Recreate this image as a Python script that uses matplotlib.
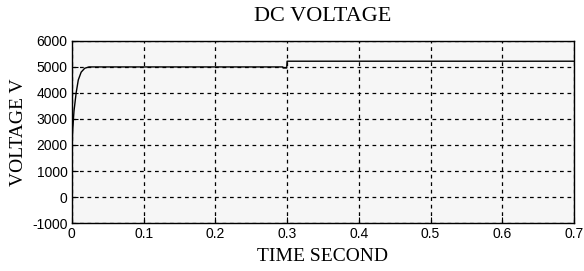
import numpy as np
import matplotlib
matplotlib.use("Agg")
import matplotlib.pyplot as plt

plt.rcParams["axes.unicode_minus"] = False

# DC voltage trace
time_s = [0, 0.001, 0.003, 0.006, 0.009, 0.013, 0.018, 0.024,
          0.294, 0.2945, 0.2995, 0.3, 0.7]
voltage_v = [1500, 2500, 3300, 4000, 4500, 4800, 4950, 5000,
             5000, 4960, 4960, 5220, 5220]

x_ticks = [0, 0.1, 0.2, 0.3, 0.4, 0.5, 0.6, 0.7]
x_labels = ["0", "0.1", "0.2", "0.3", "0.4", "0.5", "0.6", "0.7"]
y_ticks = [-1000, 0, 1000, 2000, 3000, 4000, 5000, 6000]

fig = plt.figure(figsize=(5.84, 2.71), dpi=100)
ax = fig.add_axes([0.123, 0.177, 0.860, 0.672])
ax.set_facecolor("#f6f6f6")

ax.plot(time_s, voltage_v, color="black", lw=1.0)

ax.set_xlim(0, 0.7)
ax.set_ylim(-1000, 6000)
ax.set_xticks(x_ticks)
ax.set_xticklabels(x_labels)
ax.set_yticks(y_ticks)
ax.grid(True, color="black", linestyle=(0, (3, 3)), linewidth=0.9)
ax.tick_params(direction="in", length=4, labelsize=10, colors="black", pad=3)
for lbl in ax.get_xticklabels() + ax.get_yticklabels():
    lbl.set_family("Liberation Sans")
for s in ax.spines.values():
    s.set_color("black")
    s.set_linewidth(1.0)

ax.set_title("DC VOLTAGE", family="Liberation Serif", fontsize=16, pad=14)
ax.set_xlabel("TIME SECOND", family="Liberation Serif", fontsize=14, labelpad=5)
ax.set_ylabel("VOLTAGE V", family="Liberation Serif", fontsize=14, labelpad=4)

fig.savefig("out.png", dpi=100)
